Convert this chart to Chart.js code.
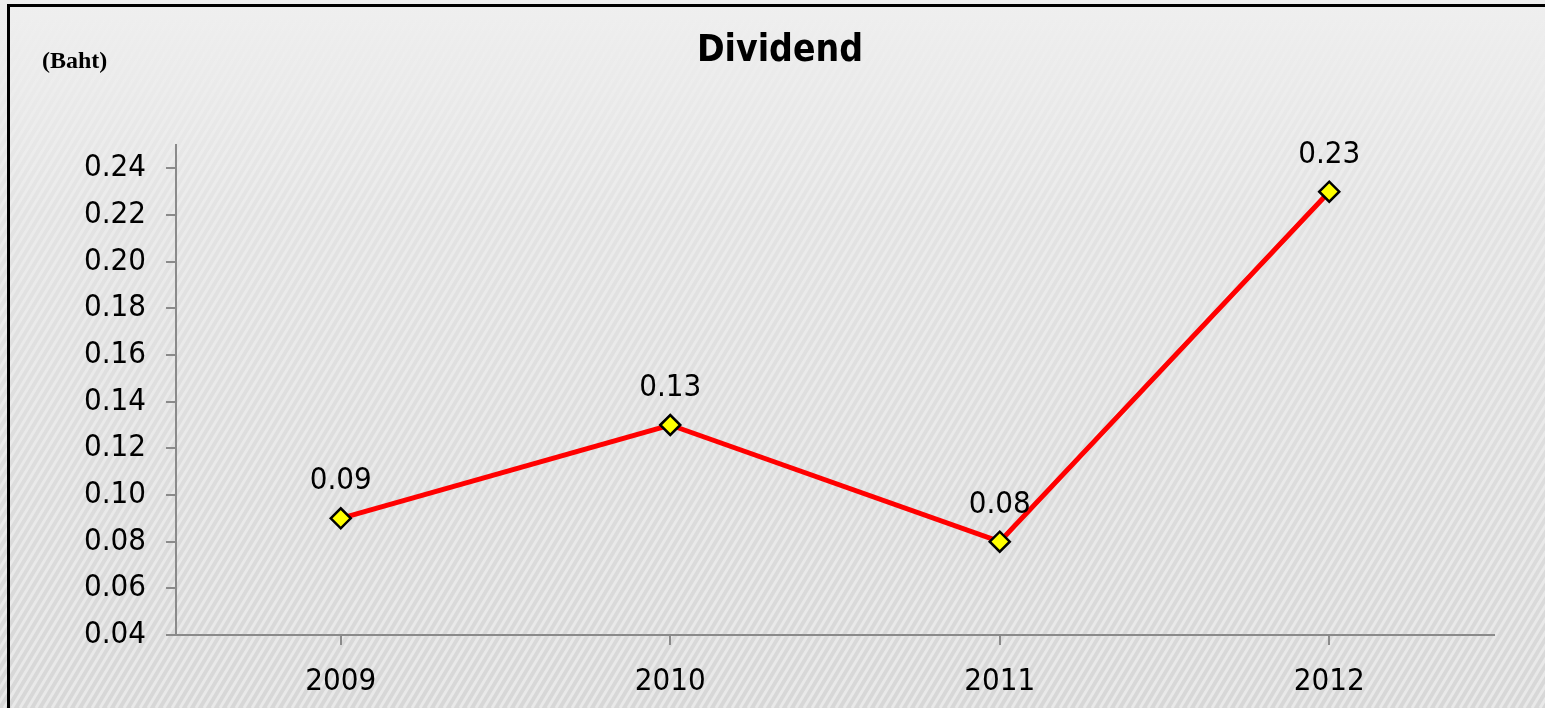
<!DOCTYPE html>
<html lang="en">
<head>
  <meta charset="UTF-8">
  <title>Dividend</title>
  <script src="https://cdn.jsdelivr.net/npm/chart.js"></script>
  <style>
    body {
      margin: 0;
      padding: 0;
      overflow: hidden;
      background: #e6e6e6;
    }
    canvas {
      display: block;
    }
  </style>
</head>
<body>
  <canvas id="lineCanvas" width="1545" height="708"></canvas>

  <script>
    // data
    const years = ['2009', '2010', '2011', '2012'];
    const dividend = [0.09, 0.13, 0.08, 0.23];
    const yTicks = [0.04, 0.06, 0.08, 0.10, 0.12, 0.14, 0.16, 0.18, 0.20, 0.22, 0.24];

    const fontName = '"DejaVu Sans Condensed", "DejaVu Sans", sans-serif';
    const tickFont = { family: fontName, size: 31 };

    // striped grey backdrop + frame + title + unit label
    const backdrop = {
      id: 'backdrop',
      beforeDraw(chart) {
        const ctx = chart.ctx;
        const w = chart.width, h = chart.height;
        ctx.save();
        const g = ctx.createLinearGradient(0, 0, 0, h);
        g.addColorStop(0, '#efefef');
        g.addColorStop(0.3, '#e3e3e3');
        g.addColorStop(1, '#d7d7d7');
        ctx.fillStyle = g;
        ctx.fillRect(0, 0, w, h);

        // diagonal stripes, fading in towards the bottom
        const sg = ctx.createLinearGradient(0, 0, 0, h);
        sg.addColorStop(0, 'rgba(255,255,255,0.0)');
        sg.addColorStop(0.25, 'rgba(255,255,255,0.28)');
        sg.addColorStop(1, 'rgba(255,255,255,0.45)');
        ctx.strokeStyle = sg;
        ctx.lineWidth = 3;
        ctx.beginPath();
        for (let x = -h; x < w + h; x += 8) {
          ctx.moveTo(x, h);
          ctx.lineTo(x + h * 0.6, 0);
        }
        ctx.stroke();

        // frame (runs off the right and bottom edges)
        ctx.strokeStyle = '#000';
        ctx.lineWidth = 3;
        ctx.strokeRect(8.5, 5.5, w + 20, h + 20);

        ctx.fillStyle = '#000';
        ctx.textBaseline = 'middle';
        ctx.font = 'bold 24px "Liberation Serif"';
        ctx.textAlign = 'left';
        ctx.fillText('(Baht)', 42, 62);

        ctx.font = 'bold 37px ' + fontName;
        ctx.textAlign = 'center';
        ctx.fillText('Dividend', 780, 51);
        ctx.restore();
      }
    };

    // value labels above each point
    const valueLabels = {
      id: 'valueLabels',
      afterDatasetsDraw(chart) {
        const ctx = chart.ctx;
        const meta = chart.getDatasetMeta(0);
        ctx.save();
        ctx.fillStyle = '#000';
        ctx.font = tickFont.size + 'px ' + fontName;
        ctx.textAlign = 'center';
        ctx.textBaseline = 'middle';
        meta.data.forEach((pt, i) => {
          ctx.fillText(dividend[i].toFixed(2), pt.x, pt.y - 37);
        });
        ctx.restore();
      }
    };

    const ctx = document.getElementById('lineCanvas').getContext('2d');
    new Chart(ctx, {
      type: 'line',
      data: {
        labels: years,
        datasets: [{
          label: 'Dividend',
          data: dividend,
          borderColor: '#ff0000',
          borderWidth: 5,
          tension: 0,
          pointStyle: 'rectRot',
          pointRadius: 10,
          pointHoverRadius: 10,
          pointBackgroundColor: '#ffff00',
          pointBorderColor: '#000000',
          pointBorderWidth: 2.5,
          clip: false
        }]
      },
      options: {
        responsive: false,
        animation: false,
        layout: {
          padding: { left: 0, right: 51, top: 145, bottom: 0 }
        },
        plugins: {
          legend: { display: false },
          tooltip: { enabled: false },
          title: { display: false }
        },
        scales: {
          x: {
            offset: true,
            grid: {
              drawOnChartArea: false,
              drawTicks: true,
              tickLength: 10,
              color: '#8a8a8a',
              lineWidth: 2
            },
            border: { color: '#8a8a8a', width: 2 },
            ticks: {
              color: '#000',
              font: tickFont,
              padding: 18
            },
            afterFit(scale) { scale.height = 73; }
          },
          y: {
            min: 0.04,
            max: 0.25,
            grid: {
              drawOnChartArea: false,
              drawTicks: true,
              tickLength: 10,
              color: '#8a8a8a',
              lineWidth: 2
            },
            border: { color: '#8a8a8a', width: 2 },
            ticks: {
              color: '#000',
              font: tickFont,
              padding: 20,
              callback: (v) => v.toFixed(2)
            },
            afterBuildTicks(scale) {
              scale.ticks = yTicks.map(v => ({ value: v }));
            },
            afterFit(scale) { scale.width = 176; }
          }
        }
      },
      plugins: [backdrop, valueLabels]
    });
  </script>
</body>
</html>
